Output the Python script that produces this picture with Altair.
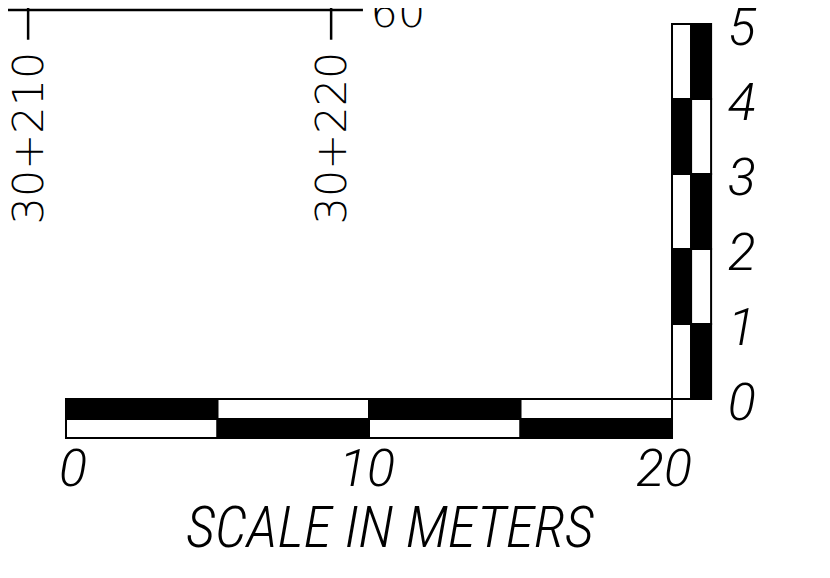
import altair as alt
import pandas as pd

# ---- data (metres) ----
# horizontal scale bar: 0-20 m, 5 m segments, two rows (top / bottom)
h_start = [0, 5, 10, 15]
h_end = [5, 10, 15, 20]
h_top_fill = ["black", "white", "black", "white"]
h_bot_fill = ["white", "black", "white", "black"]
h_labels = ["0", "10", "20"]
h_label_pos = [0, 10, 20]

# vertical scale bar: 0-5 m, 1 m segments, two columns (left / right)
v_start = [0, 1, 2, 3, 4]
v_end = [1, 2, 3, 4, 5]
v_left_fill = ["white", "black", "white", "black", "white"]
v_right_fill = ["black", "white", "black", "white", "black"]
v_labels = ["0", "1", "2", "3", "4", "5"]
v_label_pos = [0, 1, 2, 3, 4, 5]

# station line at top
stations = ["30+210", "30+220"]
station_pos = [-1.25, 8.75]
elev_label = "60"

# drawing geometry (in the same metre units)
ROW_TOP, ROW_MID, ROW_BOT = 0.0, -0.267, -0.52
COL_L, COL_M, COL_R = 20.0, 20.63, 21.29
XDOM = [-1.914, 24.95]
YDOM = [-2.28, 5.213]

xs = alt.Scale(domain=XDOM, nice=False, zero=False)
ys = alt.Scale(domain=YDOM, nice=False, zero=False)
X = lambda f: alt.X(f, scale=xs, axis=None)
Y = lambda f: alt.Y(f, scale=ys, axis=None)

rects = []
for a, b, f in zip(h_start, h_end, h_top_fill):
    rects.append(dict(x=a, x2=b, y=ROW_MID, y2=ROW_TOP, fill=f))
for a, b, f in zip(h_start, h_end, h_bot_fill):
    rects.append(dict(x=a, x2=b, y=ROW_BOT, y2=ROW_MID, fill=f))
for a, b, f in zip(v_start, v_end, v_left_fill):
    rects.append(dict(x=COL_L, x2=COL_M, y=a, y2=b, fill=f))
for a, b, f in zip(v_start, v_end, v_right_fill):
    rects.append(dict(x=COL_M, x2=COL_R, y=a, y2=b, fill=f))
rect_df = pd.DataFrame(rects)

bars = alt.Chart(rect_df).mark_rect(stroke="black", strokeWidth=2).encode(
    x=X("x:Q"), x2="x2", y=Y("y:Q"), y2="y2",
    fill=alt.Fill("fill:N", scale=None),
)

LINE_Y = 5.187
line_df = pd.DataFrame(dict(x=[XDOM[0]], x2=[9.8], y=[LINE_Y]))
top_line = alt.Chart(line_df).mark_rule(color="black", strokeWidth=2.5).encode(
    x=X("x:Q"), x2="x2", y=Y("y:Q"))

tick_df = pd.DataFrame(dict(x=station_pos, y=[4.79] * 2, y2=[YDOM[1]] * 2, label=stations))
ticks = alt.Chart(tick_df).mark_rule(color="black", strokeWidth=2.5).encode(
    x=X("x:Q"), y=Y("y:Q"), y2="y2")

FONT = "DejaVu Sans"
ITAL = "Roboto"
st_lab = alt.Chart(tick_df.assign(ly=3.48)).mark_text(
    angle=270, align="center", baseline="middle", font=FONT, fontSize=43,
    fontWeight=200, color="black", dy=2
).encode(x=X("x:Q"), y=Y("ly:Q"), text="label:N")

elev_df = pd.DataFrame(dict(x=[10.05], y=[LINE_Y], t=[elev_label]))
elev = alt.Chart(elev_df).mark_text(
    align="left", baseline="middle", font=FONT, fontSize=43, fontWeight=200,
    color="black", dy=4
).encode(x=X("x:Q"), y=Y("y:Q"), text="t:N")

vl_df = pd.DataFrame(dict(x=[22.3] * 6, y=v_label_pos, t=v_labels))
vlab = alt.Chart(vl_df).mark_text(
    align="center", baseline="middle", font=ITAL, fontSize=52, fontStyle="italic",
    fontWeight=300, color="black", dy=5
).encode(x=X("x:Q"), y=Y("y:Q"), text="t:N")

hl_df = pd.DataFrame(dict(x=h_label_pos, y=[-0.947] * 3, t=h_labels))
h_dx = [7, -2, -8]
hlab = alt.layer(*[
    alt.Chart(hl_df.iloc[[i]]).mark_text(
        align="center", baseline="middle", font=ITAL, fontSize=52, fontStyle="italic",
        fontWeight=300, color="black", dx=h_dx[i]
    ).encode(x=X("x:Q"), y=Y("y:Q"), text="t:N")
    for i in range(len(h_labels))
])

title_df = pd.DataFrame(dict(x=[10.69], y=[-1.747], t=["SCALE IN METERS"]))
title = alt.Chart(title_df).mark_text(
    align="center", baseline="middle", font="Roboto Condensed, Roboto", fontSize=58,
    fontStyle="italic", fontWeight=300, color="black"
).encode(x=X("x:Q"), y=Y("y:Q"), text="t:N")

chart = alt.layer(top_line, ticks, st_lab, elev, bars, vlab, hlab, title).properties(
    width=814, height=562, padding=0, autosize=alt.AutoSizeParams(type="none"),
    background="white",
).configure_view(stroke=None)

chart.save("out.html", embed_options={"renderer": "svg", "actions": False})
